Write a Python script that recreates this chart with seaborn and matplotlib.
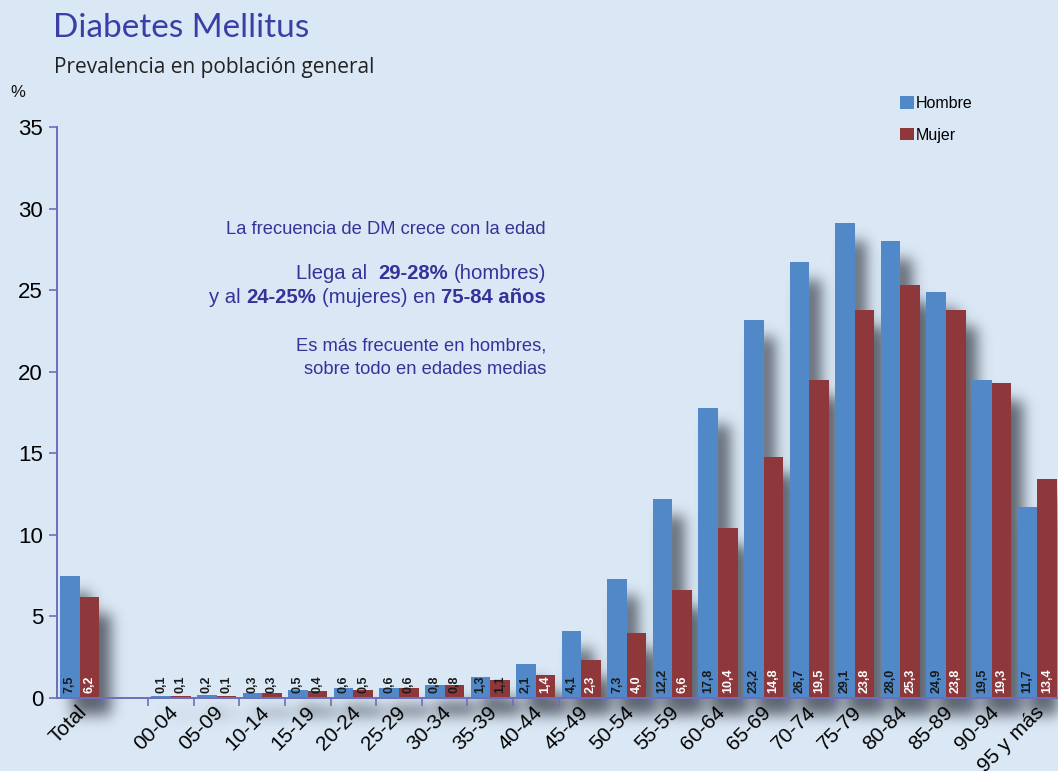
import numpy as np
import pandas as pd
import seaborn as sns
import matplotlib.pyplot as plt
import matplotlib.transforms as mtransforms

# datos
grupos = ['Total', ' ', '00-04', '05-09', '10-14', '15-19', '20-24', '25-29', '30-34', '35-39',
          '40-44', '45-49', '50-54', '55-59', '60-64', '65-69', '70-74', '75-79', '80-84',
          '85-89', '90-94', '95 y más']
hombre = [7.5, np.nan, 0.1, 0.2, 0.3, 0.5, 0.6, 0.6, 0.8, 1.3, 2.1, 4.1, 7.3, 12.2, 17.8,
          23.2, 26.7, 29.1, 28.0, 24.9, 19.5, 11.7]
mujer = [6.2, np.nan, 0.1, 0.1, 0.3, 0.4, 0.5, 0.6, 0.8, 1.1, 1.4, 2.3, 4.0, 6.6, 10.4,
         14.8, 19.5, 23.8, 25.3, 23.8, 19.3, 13.4]
sexos = ['Hombre', 'Mujer']
yticks = [0, 5, 10, 15, 20, 25, 30, 35]

BG = '#DAE8F5'
AXC = '#6E6EBC'
BLUE = '#5088C8'
RED = '#8F383B'
TXT = '#33339A'
ARIAL = ['Liberation Sans']

df = pd.DataFrame({
    'grupo': grupos * 2,
    'sexo': ['Hombre'] * len(grupos) + ['Mujer'] * len(grupos),
    'valor': hombre + mujer,
})

W, H = 1058, 771
fig = plt.figure(figsize=(W / 100, H / 100), dpi=100, facecolor=BG)
ax = fig.add_axes([57 / W, 73 / H, 1003 / W, 571 / H])
ax.set_facecolor('none')

sns.barplot(data=df, x='grupo', y='valor', hue='sexo', order=grupos, hue_order=sexos,
            palette=[BLUE, RED], saturation=1, width=0.86, gap=0, errorbar=None,
            linewidth=0, ax=ax, zorder=2)

ax.set_xlim(-0.5, len(grupos) - 0.5)
ax.set_ylim(0, 35)

# sombra difusa de las barras (máscara desenfocada en píxeles)
mask = np.zeros((H, W))
dx, dy = 12, -17
for cont in ax.containers:
    for bar in cont:
        h = bar.get_height()
        if np.isnan(h) or h == 0:
            continue
        (x0, y0), (x1, y1) = ax.transData.transform([(bar.get_x(), 0),
                                                     (bar.get_x() + bar.get_width(), h)])
        c0, c1 = int(max(x0 + dx, 0)), int(min(x1 + dx, W))
        r0, r1 = int(max(y0 + dy, 0)), int(min(y1 + dy, H))
        mask[r0:r1, c0:c1] = 1
sig = 7
k = np.exp(-np.arange(-3 * sig, 3 * sig + 1) ** 2 / (2 * sig ** 2))
k /= k.sum()
mask = np.apply_along_axis(lambda v: np.convolve(v, k, mode='same'), 0, mask)
mask = np.apply_along_axis(lambda v: np.convolve(v, k, mode='same'), 1, mask)
sombra = np.zeros((H, W, 4))
sombra[..., 0], sombra[..., 1], sombra[..., 2] = 0.13, 0.15, 0.19
sombra[..., 3] = np.clip(mask * 0.68, 0, 1)
fig.figimage(sombra, xo=0, yo=0, origin='lower', zorder=-1)

# etiquetas de valor
for i, cont in enumerate(ax.containers):
    for bar in cont:
        h = bar.get_height()
        if np.isnan(h) or h == 0:
            continue
        txt = f'{h:.1f}'.replace('.', ',')
        col = 'white' if (i == 1 and h > 1.2) else '#1a1a1a'
        ax.text(bar.get_x() + bar.get_width() / 2, 0.3, txt, rotation=90, ha='center',
                va='bottom', fontsize=9, fontweight='bold', family=ARIAL, color=col, zorder=4)

ax.set_yticks(yticks)
ax.set_yticklabels([str(t) for t in yticks], family=ARIAL, fontsize=16)
ax.set_xlabel('')
ax.set_ylabel('')

ax.set_xticks(np.arange(0.5, len(grupos) - 0.5, 1), minor=True)
ax.tick_params(axis='x', which='major', length=0, pad=8)
ax.tick_params(axis='x', which='minor', length=6, width=1.2, color=AXC, direction='out')
ax.tick_params(axis='y', length=6, width=1.2, color=AXC, pad=4)
desplaza = mtransforms.ScaledTranslation(4 / 100, 0, fig.dpi_scale_trans)
for lab in ax.get_xticklabels():
    lab.set_rotation(45)
    lab.set_ha('right')
    lab.set_va('center')
    lab.set_rotation_mode('anchor')
    lab.set_fontsize(15)
    lab.set_family(ARIAL)
    lab.set_transform(lab.get_transform() + desplaza)

for s in ['top', 'right']:
    ax.spines[s].set_visible(False)
for s in ['left', 'bottom']:
    ax.spines[s].set_color(AXC)
    ax.spines[s].set_linewidth(1.4)
    ax.spines[s].set_zorder(3)

sns.move_legend(ax, 'upper left', bbox_to_anchor=(900 / W, 1 - 96 / H),
                bbox_transform=fig.transFigure, frameon=False, title=None,
                handlelength=0.85, handleheight=0.8, handletextpad=0.12,
                labelspacing=1.05, borderpad=0, borderaxespad=0,
                prop={'family': ARIAL, 'size': 11.5})

# títulos
fig.text(53 / W, 1 - 37 / H, 'Diabetes Mellitus', family='Lato',
         fontsize=24, color='#3A3FA8', va='baseline')
fig.text(54 / W, 1 - 73 / H, 'Prevalencia en población general', family='Open Sans',
         fontsize=15, color='#222222', va='baseline')
fig.text(10 / W, 1 - 97 / H, '%', family=ARIAL, fontsize=12, color='#111111',
         va='baseline')


# texto explicativo con partes en negrita, alineado a la derecha
def linea(yc, partes, fs):
    sp = 0.278 * fs
    prev = None
    for texto, negrita, hueco in reversed(partes):
        kw = dict(fontsize=fs, family=ARIAL, color=TXT, ha='right', va='center',
                  fontweight='bold' if negrita else 'normal')
        if prev is None:
            prev = fig.text(546 / W, 1 - yc / H, texto, **kw)
        else:
            prev = ax.annotate(texto, xy=(0, 0.5), xycoords=prev,
                               xytext=(-hueco * sp, 0), textcoords='offset points', **kw)


linea(230, [('La frecuencia de DM crece con la edad', False, 0)], 13.2)
linea(273, [('Llega al', False, 2), ('29-28%', True, 1), ('(hombres)', False, 0)], 14.6)
linea(298, [('y al', False, 1), ('24-25%', True, 1), ('(mujeres) en', False, 1),
            ('75-84 años', True, 0)], 14.6)
linea(346, [('Es más frecuente en hombres,', False, 0)], 13.2)
linea(369, [('sobre todo en edades medias', False, 0)], 13.2)

fig.savefig('out.png', dpi=100, facecolor=BG)
